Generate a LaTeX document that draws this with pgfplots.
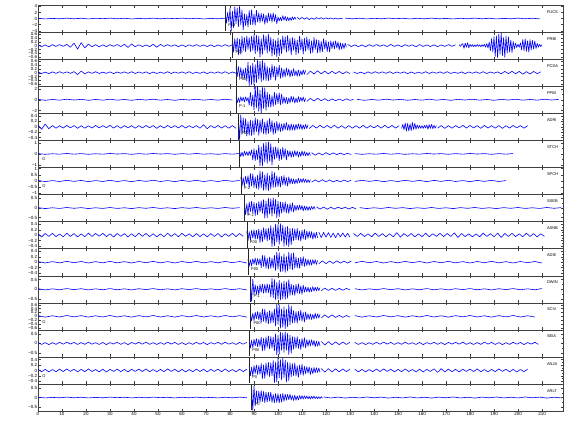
\documentclass[border=0pt]{standalone}
\usepackage{fontspec}
\setmainfont{Liberation Sans}
\usepackage{pgfplots}
\pgfplotsset{compat=1.18}
\newcommand{\seg}[3]{\addplot[seis] table[row sep=\\, x expr={\coordindex*#2+#1}, y index=0]{#3};}
\tikzset{
 lab/.style={anchor=west, font=\fontsize{4}{4.5}\selectfont, inner sep=0.5pt},
 stn/.style={anchor=west, font=\fontsize{4}{4.5}\selectfont, inner sep=0pt},
}
\pgfplotsset{
 seis/.style={blue, line width=0.6pt, line join=round},
 arr/.style={black!85, line width=0.3pt},
 panel/.style={at={(0pt,{-#1*27.07pt})}, anchor=north west, scale only axis,
   width=525pt, height=27.07pt, xmin=0, xmax=218.75, ymin=-100, ymax=100,
   xtick={0,10,...,210}, tick align=inside, major tick length=2.5pt, minor tick length=1.3pt,
   minor y tick num=1, axis line style={black!75, line width=0.4pt},
   every tick/.style={black!75, line width=0.3pt},
   yticklabel style={font=\fontsize{4.5}{5}\selectfont, inner sep=0.6pt},
   xticklabel style={font=\fontsize{4.5}{5}\selectfont, inner sep=1pt},
   /pgf/number format/assume math mode=true},
 notlast/.style={xticklabels={}},
}
\begin{document}
\begin{tikzpicture}
\path[use as bounding box] (-38pt,5pt) rectangle (542pt,-435pt);
% 1
\begin{axis}[panel=0, notlast, ytick={-91,-45,0,45,91}, yticklabels={−4,−2,0,2,4}]
\seg{0}{3}{2\\-3\\1\\-2\\3\\-2\\2\\-3\\2\\-1\\3\\-2\\2\\-3\\1\\-2\\3\\-2\\2\\-1\\3\\-2\\2\\-3\\1\\-2\\3\\}
\seg{78}{0.5}{50\\-35\\45\\-25\\74\\-92\\55\\-69\\87\\-37\\78\\-60\\92\\-46\\64\\-83\\36\\-52\\29\\-62\\59\\-45\\65\\-46\\33\\-49\\62\\-26\\42\\-29\\38\\-21\\34\\-42\\25\\-32\\40\\-17\\36\\-27\\42\\-21\\29\\-38\\12\\-18\\9\\-17\\21\\-13\\15\\-17\\10\\-16\\7\\-14\\12\\-8\\11\\-6\\}
\seg{108}{1}{9\\-6\\8\\-4\\7\\-8\\5\\-6\\7\\-3\\6\\-4\\5\\-3\\5\\-4\\3\\-4\\3\\-3\\}
\seg{128}{3}{3\\-2\\2\\-3\\2\\-2\\3\\-1\\2\\-3\\2\\-2\\3\\-2\\1\\-3\\2\\-2\\3\\-2\\2\\-3\\1\\-2\\3\\-2\\2\\-2\\}
\addplot[arr] coordinates {(78,95) (78,-95)};
\node[lab] at (axis cs:79,-50) {P08};
\node[stn] at (axis cs:212,50) {FUCS};
\end{axis}
% 2
\begin{axis}[panel=1, notlast, ytick={-86,-57,-29,0,29,57,86}, yticklabels={−0.6,−0.4,−0.2,0,0.2,0.4,0.6}]
\seg{0}{1.5}{6\\-8\\5\\-9\\7\\-6\\8\\-5\\9\\-12\\18\\-26\\22\\-17\\11\\-8\\7\\-9\\6\\-8\\7\\-5\\8\\-7\\10\\-14\\12\\-8\\6\\-7\\5\\-8\\10\\-12\\9\\-6\\7\\-5\\6\\-8\\5\\-7\\6\\-5\\8\\-6\\5\\-7\\6\\-8\\5\\-6\\7\\-5\\6\\}
\seg{81}{0.5}{55\\-48\\52\\-38\\56\\-70\\49\\-63\\67\\-35\\60\\-46\\70\\-28\\59\\-45\\70\\-35\\81\\-60\\76\\-43\\68\\-85\\51\\-64\\81\\-34\\72\\-55\\85\\-43\\60\\-77\\47\\-68\\38\\-81\\56\\-75\\45\\-60\\71\\-30\\64\\-49\\75\\-38\\53\\-68\\60\\-34\\52\\-66\\41\\-57\\70\\-31\\49\\-62\\55\\-42\\63\\-30\\48\\-58\\36\\-51\\60\\-27\\45\\-54\\40\\-50\\31\\-46\\52\\-25\\38\\-44\\28\\-47\\35\\-22\\30\\-24\\35\\-18\\27\\-31\\20\\-26\\16\\-22\\18\\-12\\}
\seg{129}{1.5}{9\\-7\\6\\-8\\5\\-9\\7\\-6\\8\\-5\\6\\-7\\9\\-6\\5\\-8\\7\\-5\\6\\-9\\8\\-6\\5\\-7\\6\\-8\\5\\-6\\7\\-5\\6\\}
\seg{175.5}{0.5}{7\\-6\\8\\14\\-20\\18\\-12\\21\\-16\\9\\-6\\7\\-8\\5\\-7\\8\\-5\\6\\-9\\7\\-6\\10\\-12\\15\\-18\\25\\-38\\52\\-45\\66\\-80\\72\\-90\\85\\-62\\92\\-75\\60\\-86\\70\\-55\\64\\-48\\40\\-52\\30\\-24\\18\\-14\\10\\-12\\20\\-32\\45\\-38\\50\\-42\\36\\-48\\44\\-30\\38\\-26\\34\\-22\\16\\-12\\10\\-7\\6\\}
\addplot[arr] coordinates {(81,95) (81,-95)};
\node[lab] at (axis cs:82,-50) {P00};
\node[stn] at (axis cs:212,50) {PRBI};
\end{axis}
% 3
\begin{axis}[panel=2, notlast, ytick={-86,-57,-29,0,29,57,86}, yticklabels={−0.6,−0.4,−0.2,0,0.2,0.4,0.6}]
\seg{0}{1.5}{5\\-6\\4\\-7\\6\\-5\\7\\-4\\6\\-5\\8\\-14\\12\\-9\\6\\-5\\7\\-6\\4\\-5\\6\\-7\\5\\-4\\6\\-5\\7\\-6\\5\\-4\\6\\-7\\5\\-6\\4\\-5\\7\\-6\\5\\-4\\6\\-5\\7\\-6\\4\\-5\\6\\-7\\5\\-4\\6\\-5\\7\\-6\\5\\-4\\}
\seg{82.5}{0.5}{40\\-28\\45\\-33\\38\\-45\\25\\-40\\35\\-60\\78\\-95\\52\\-88\\70\\-92\\60\\-75\\95\\-48\\84\\-66\\90\\-55\\72\\-58\\44\\-60\\36\\-52\\60\\-30\\48\\-55\\40\\-28\\56\\-42\\35\\-34\\25\\-30\\35\\-20\\28\\-33\\18\\-26\\30\\-22\\15\\-27\\20\\-24\\14\\-18\\21\\-12\\16\\}
\seg{112}{1.5}{-15\\12\\-10\\14\\-8\\11\\-9\\10\\-7\\9\\-8\\7\\-6\\}
\seg{131.5}{1.5}{5\\-6\\4\\-7\\6\\-5\\7\\-4\\6\\-5\\7\\-6\\5\\-4\\6\\-7\\5\\-6\\4\\-5\\7\\-6\\5\\-4\\6\\-5\\7\\-6\\4\\-5\\6\\-7\\5\\-4\\6\\-5\\7\\-6\\5\\-4\\6\\-8\\9\\-7\\10\\-8\\9\\-11\\8\\-10\\9\\-7\\6\\}
\addplot[arr] coordinates {(82.5,95) (82.5,-95)};
\node[lab] at (axis cs:83.5,-50) {P00};
\node[stn] at (axis cs:212,50) {PCDA};
\end{axis}
% 4
\begin{axis}[panel=3, notlast, ytick={-80,0,80}, yticklabels={−2,0,2}]
\seg{0}{3}{3\\-4\\2\\-3\\4\\-2\\3\\-4\\2\\-3\\4\\-3\\2\\-4\\3\\-2\\4\\-3\\2\\-4\\3\\-2\\4\\-3\\2\\-3\\4\\-2\\}
\seg{82.5}{0.5}{18\\-22\\14\\-20\\22\\-12\\19\\-16\\21\\-10\\17\\-40\\55\\-48\\35\\-75\\98\\-60\\100\\-85\\70\\-100\\92\\-65\\88\\-78\\55\\-52\\40\\-55\\30\\-48\\55\\-36\\45\\-28\\50\\-38\\42\\-28\\22\\-26\\18\\-30\\14\\-24\\27\\-16\\22\\-25\\12\\-20\\23\\-15\\18\\-12\\20\\-14\\10\\}
\seg{112}{1.5}{-12\\10\\-9\\11\\-7\\8\\-9\\6\\-7\\5\\-6\\7\\-5\\4\\}
\seg{133}{3}{3\\-4\\2\\-3\\4\\-2\\3\\-4\\2\\-3\\4\\-3\\2\\-4\\3\\-2\\4\\-3\\2\\-4\\3\\-2\\4\\-3\\2\\-3\\4\\-2\\3\\}
\addplot[arr] coordinates {(82.5,95) (82.5,-95)};
\node[lab] at (axis cs:83.5,-50) {P-1};
\node[stn] at (axis cs:212,50) {PPBI};
\end{axis}
% 5
\begin{axis}[panel=4, notlast, ytick={-80,-40,0,40,80}, yticklabels={−0.4,−0.2,0,0.2,0.4}]
\seg{0}{1.5}{12\\-18\\20\\-14\\9\\-10\\8\\-9\\10\\-7\\9\\-11\\8\\-10\\7\\-9\\10\\-8\\9\\-7\\11\\-9\\8\\-10\\9\\-7\\8\\-10\\9\\-8\\10\\-7\\9\\-11\\8\\-9\\10\\-7\\9\\-8\\10\\-9\\8\\-7\\9\\-10\\15\\-14\\9\\-8\\10\\-9\\8\\-10\\9\\-11\\}
\seg{83.5}{0.5}{70\\-95\\88\\-55\\65\\-42\\60\\-68\\38\\-62\\50\\-65\\45\\-58\\66\\-35\\55\\-62\\48\\-40\\60\\-52\\35\\-58\\45\\-50\\62\\-38\\46\\-55\\30\\-48\\40\\-32\\28\\-35\\22\\-30\\26\\-20\\32\\-25\\18\\-28\\22\\-24\\16\\-26\\20\\-18\\22\\-15\\19\\-20\\14\\-17\\18\\-13\\15\\}
\seg{113}{1.5}{-12\\10\\-9\\11\\-8\\10\\-9\\12\\-10\\8\\-11\\9\\-10\\8\\-9\\11\\-10\\9\\-8\\10\\-9\\11\\-8\\10\\-9\\8\\}
\seg{151.5}{0.5}{-12\\18\\-22\\28\\-32\\25\\-30\\22\\-28\\32\\-20\\26\\-18\\14\\-12\\10\\-11\\9\\-12\\10\\-9\\14\\-18\\16\\-12\\18\\-14\\11\\-10\\9\\}
\seg{166.5}{1.5}{-10\\9\\-11\\8\\-10\\9\\-8\\11\\-9\\10\\-8\\9\\-11\\10\\-9\\8\\-10\\9\\-11\\8\\-9\\10\\-8\\9\\-10\\8\\}
\addplot[arr] coordinates {(83.5,95) (83.5,-95)};
\node[lab] at (axis cs:84.5,-50) {P00};
\node[stn] at (axis cs:212,50) {ADRI};
\end{axis}
% 6
\begin{axis}[panel=5, notlast, ytick={-83,0,83}, yticklabels={−1,0,1}]
\seg{0}{3}{2\\-3\\1\\-2\\3\\-2\\2\\-3\\1\\-2\\3\\-1\\2\\-3\\2\\-2\\3\\-1\\2\\-3\\2\\-2\\3\\-2\\1\\-3\\2\\-2\\3\\}
\seg{84}{0.5}{15\\-20\\12\\-18\\20\\-10\\16\\-14\\19\\-11\\30\\-45\\38\\-50\\28\\-42\\65\\-88\\52\\-90\\78\\-60\\85\\-70\\90\\-55\\75\\-82\\48\\-40\\52\\-30\\45\\-50\\35\\-42\\48\\-28\\38\\-45\\25\\-20\\23\\-26\\18\\-22\\25\\-15\\20\\-24\\14\\-19\\22\\-12\\17\\-15\\11\\-14\\10\\-12\\}
\seg{114}{1.5}{9\\-10\\7\\-8\\9\\-6\\7\\-5\\6\\-5\\4\\-5\\}
\seg{132}{3}{2\\-3\\1\\-2\\3\\-2\\2\\-3\\1\\-2\\3\\-1\\2\\-3\\2\\-2\\3\\-1\\2\\-3\\2\\-2\\3\\}
\addplot[arr] coordinates {(84,95) (84,-95)};
\node[lab] at (axis cs:1.5,-40) {O};
\node[stn] at (axis cs:212,50) {STCH};
\end{axis}
% 7
\begin{axis}[panel=6, notlast, ytick={-91,-45,0,45,91}, yticklabels={−1,−0.5,0,0.5,1}]
\seg{0}{3}{4\\-5\\3\\-4\\5\\-3\\4\\-5\\3\\-4\\5\\-4\\3\\-5\\4\\-3\\5\\-4\\3\\-5\\4\\-3\\5\\-4\\3\\-4\\5\\-3\\4\\}
\seg{84.5}{0.5}{30\\-40\\25\\-38\\35\\-22\\38\\-45\\55\\-38\\52\\-48\\30\\-55\\44\\-62\\72\\-50\\68\\-70\\45\\-66\\58\\-72\\40\\-60\\70\\-48\\62\\-45\\38\\-42\\30\\-45\\35\\-28\\40\\-32\\25\\-38\\30\\-22\\18\\-20\\15\\-22\\12\\-18\\20\\-14\\16\\-12\\18\\-10\\14\\-12\\9\\-11\\10\\}
\seg{114}{1.5}{-9\\8\\-7\\9\\-6\\8\\-7\\5\\-6\\7\\-5\\6\\}
\seg{132}{3}{-4\\5\\-3\\4\\-5\\3\\-4\\5\\-3\\4\\-5\\4\\-3\\5\\-4\\3\\-5\\4\\-3\\5\\-4\\3\\}
\addplot[arr] coordinates {(84.5,95) (84.5,-95)};
\node[lab] at (axis cs:85.5,-50) {P-2};
\node[lab] at (axis cs:1.5,-40) {O};
\node[stn] at (axis cs:212,50) {SPCH};
\end{axis}
% 8
\begin{axis}[panel=7, notlast, ytick={-71,0,71}, yticklabels={−0.5,0,0.5}]
\seg{0}{3}{3\\-4\\2\\-3\\4\\-2\\3\\-4\\2\\-3\\4\\-3\\2\\-4\\3\\-2\\4\\-3\\2\\-4\\3\\-2\\4\\-3\\2\\-3\\4\\-2\\3\\}
\seg{86}{0.5}{40\\-50\\32\\-48\\45\\-28\\50\\-36\\42\\-55\\35\\-50\\48\\-30\\52\\-40\\62\\-75\\50\\-70\\72\\-45\\68\\-60\\75\\-42\\65\\-72\\50\\-64\\45\\-38\\42\\-30\\45\\-35\\28\\-40\\32\\-25\\38\\-30\\22\\-18\\20\\-15\\22\\-12\\18\\-20\\14\\-16\\12\\-18\\10\\-14\\12\\-9\\11\\-10\\}
\seg{116}{1.5}{9\\-8\\7\\-9\\6\\-8\\7\\-5\\6\\-7\\5\\-6\\}
\seg{134}{3}{3\\-4\\2\\-3\\4\\-2\\3\\-4\\2\\-3\\4\\-3\\2\\-4\\3\\-2\\4\\-3\\2\\-4\\3\\-2\\4\\-3\\2\\-3\\4\\-2\\3\\}
\addplot[arr] coordinates {(86,95) (86,-95)};
\node[lab] at (axis cs:87,-50) {P-2};
\node[stn] at (axis cs:212,50) {SSEB};
\end{axis}
% 9
\begin{axis}[panel=8, notlast, ytick={-80,-40,0,40,80}, yticklabels={−0.4,−0.2,0,0.2,0.4}]
\seg{0}{1.5}{10\\-14\\12\\-9\\13\\-11\\8\\-12\\14\\-10\\11\\-13\\9\\-12\\15\\-10\\12\\-8\\13\\-11\\10\\-14\\12\\-9\\11\\-13\\10\\-12\\14\\-9\\12\\-11\\10\\-13\\9\\-12\\14\\-10\\11\\-12\\13\\-9\\10\\-14\\12\\-11\\9\\-13\\11\\-10\\12\\-14\\10\\-9\\13\\-11\\12\\-10\\}
\seg{87}{0.5}{30\\-40\\25\\-38\\35\\-22\\40\\-30\\36\\-28\\45\\-55\\38\\-50\\55\\-32\\48\\-42\\52\\-35\\70\\-85\\55\\-80\\82\\-50\\78\\-68\\85\\-45\\72\\-82\\58\\-75\\65\\-85\\50\\-70\\50\\-42\\46\\-35\\50\\-38\\30\\-45\\36\\-28\\42\\-33\\30\\-24\\28\\-20\\26\\-30\\18\\-24\\22\\-20\\}
\seg{117}{1}{22\\-18\\20\\-15\\18\\-16\\14\\-19\\15\\-13\\16\\-14\\13\\-15\\}
\seg{131.5}{1.5}{12\\-10\\13\\-11\\9\\-12\\14\\-10\\11\\-13\\10\\-12\\18\\-15\\11\\-10\\12\\-13\\9\\-11\\14\\-12\\10\\-9\\13\\-11\\12\\-10\\16\\-18\\12\\-11\\10\\-13\\9\\-12\\14\\-10\\11\\-12\\15\\-17\\12\\-10\\13\\-11\\9\\-12\\14\\-10\\11\\-13\\10\\-9\\}
\addplot[arr] coordinates {(87,95) (87,-95)};
\node[lab] at (axis cs:88,-50) {P00};
\node[stn] at (axis cs:212,50) {ASNB};
\end{axis}
% 10
\begin{axis}[panel=9, notlast, ytick={-80,-40,0,40,80}, yticklabels={−0.4,−0.2,0,0.2,0.4}]
\seg{0}{3}{5\\-6\\4\\-5\\6\\-4\\5\\-6\\4\\-5\\6\\-5\\4\\-6\\5\\-4\\6\\-5\\4\\-6\\5\\-4\\6\\-5\\4\\-5\\6\\-4\\5\\-6\\}
\seg{87.5}{0.5}{22\\-30\\18\\-28\\26\\-15\\30\\-22\\27\\-18\\25\\-40\\50\\-32\\48\\-45\\28\\-50\\38\\-46\\30\\-42\\50\\-62\\75\\-50\\70\\-72\\45\\-68\\60\\-75\\42\\-65\\72\\-50\\64\\-58\\70\\-45\\38\\-42\\30\\-45\\35\\-28\\40\\-32\\25\\-25\\20\\-23\\17\\-22\\19\\-14\\18\\-16\\12\\}
\seg{117}{1.5}{-12\\10\\-11\\8\\-9\\10\\-7\\8\\-6\\7\\}
\seg{132}{3}{-5\\6\\-4\\5\\-6\\4\\-5\\6\\-4\\5\\-6\\5\\-4\\6\\-5\\4\\-6\\5\\-4\\6\\-5\\4\\-6\\5\\-4\\5\\-6\\}
\addplot[arr] coordinates {(87.5,95) (87.5,-95)};
\node[lab] at (axis cs:88.5,-50) {P00};
\node[stn] at (axis cs:212,50) {ADIE};
\end{axis}
% 11
\begin{axis}[panel=10, notlast, ytick={-71,0,71}, yticklabels={−0.5,0,0.5}]
\seg{0}{3}{4\\-5\\3\\-4\\5\\-3\\4\\-5\\3\\-4\\5\\-4\\3\\-5\\4\\-3\\5\\-4\\3\\-5\\4\\-3\\5\\-4\\3\\-4\\5\\-3\\4\\-5\\}
\seg{88.5}{0.5}{60\\-90\\75\\-40\\32\\-38\\25\\-40\\35\\-22\\38\\-30\\36\\-28\\40\\-25\\34\\-55\\80\\-62\\72\\-78\\50\\-70\\65\\-80\\48\\-72\\60\\-75\\55\\-66\\70\\-45\\38\\-42\\30\\-45\\35\\-28\\40\\-32\\25\\-38\\30\\-22\\18\\-20\\15\\-22\\12\\-18\\20\\-14\\16\\-12\\15\\-10\\12\\}
\seg{118}{1.5}{-10\\8\\-9\\7\\-8\\6\\-7\\6\\-5\\}
\seg{132}{3}{4\\-5\\3\\-4\\5\\-3\\4\\-5\\3\\-4\\5\\-4\\3\\-5\\4\\-3\\5\\-4\\3\\-5\\4\\-3\\5\\-4\\3\\-4\\5\\}
\addplot[arr] coordinates {(88.5,95) (88.5,-95)};
\node[lab] at (axis cs:89.5,-50) {P-1};
\node[stn] at (axis cs:212,50) {DWIN};
\end{axis}
% 12
\begin{axis}[panel=11, notlast, ytick={-86,-57,-29,0,29,57,86}, yticklabels={−0.6,−0.4,−0.2,0,0.2,0.4,0.6}]
\seg{0}{3}{5\\-6\\4\\-5\\6\\-4\\5\\-6\\4\\-5\\6\\-5\\4\\-6\\5\\-4\\6\\-5\\4\\-6\\5\\-4\\6\\-5\\4\\-5\\6\\-4\\5\\-6\\}
\seg{88.5}{0.5}{28\\-35\\22\\-32\\30\\-18\\35\\-25\\30\\-45\\55\\-38\\52\\-48\\30\\-55\\42\\-50\\35\\-46\\55\\-72\\90\\-60\\85\\-88\\55\\-80\\70\\-90\\52\\-78\\86\\-62\\75\\-50\\42\\-46\\35\\-50\\38\\-30\\45\\-36\\28\\-42\\33\\-25\\20\\-23\\18\\-24\\14\\-20\\22\\-15\\18\\-13\\16\\}
\seg{118}{1.5}{-12\\10\\-9\\11\\-8\\7\\-8\\6\\-7\\}
\seg{132}{3}{5\\-6\\4\\-5\\6\\-4\\5\\-6\\4\\-5\\6\\-5\\4\\-6\\5\\-4\\6\\-5\\4\\-6\\5\\-4\\6\\-5\\4\\-5\\}
\addplot[arr] coordinates {(88.5,95) (88.5,-95)};
\node[lab] at (axis cs:89.5,-50) {P00};
\node[lab] at (axis cs:1.5,-40) {O};
\node[stn] at (axis cs:212,50) {SCIV};
\end{axis}
% 13
\begin{axis}[panel=12, notlast, ytick={-71,0,71}, yticklabels={−0.5,0,0.5}]
\seg{0}{1.5}{7\\-8\\6\\-9\\5\\-7\\8\\-6\\9\\-5\\7\\-8\\6\\-7\\9\\-6\\5\\-8\\7\\-9\\6\\-5\\8\\-7\\6\\-9\\7\\-5\\8\\-6\\9\\-7\\5\\-8\\6\\-7\\9\\-5\\7\\-8\\6\\-9\\5\\-7\\8\\-6\\7\\-9\\6\\-5\\8\\-7\\9\\-6\\5\\-8\\7\\-6\\8\\}
\seg{88}{0.5}{28\\-35\\22\\-32\\30\\-18\\35\\-25\\30\\-22\\45\\-55\\38\\-52\\48\\-30\\55\\-42\\50\\-35\\46\\-55\\70\\-85\\58\\-80\\84\\-52\\78\\-66\\85\\-50\\74\\-82\\60\\-72\\50\\-42\\46\\-35\\50\\-38\\30\\-45\\36\\-28\\42\\-33\\28\\-22\\25\\-19\\27\\-15\\22\\-24\\17\\-20\\14\\-18\\}
\seg{118}{1.5}{14\\-12\\13\\-10\\11\\-9\\10\\-8\\9\\}
\seg{132}{1.5}{7\\-8\\6\\-9\\5\\-7\\8\\-6\\9\\-5\\7\\-8\\6\\-7\\9\\-6\\5\\-8\\7\\-9\\6\\-5\\8\\-7\\6\\-9\\7\\-5\\8\\-6\\9\\-7\\5\\-8\\6\\-7\\9\\-5\\7\\-8\\6\\-9\\5\\-7\\8\\-6\\7\\-9\\6\\-5\\8\\-7\\}
\addplot[arr] coordinates {(88,95) (88,-95)};
\node[lab] at (axis cs:89,-50) {P00};
\node[stn] at (axis cs:212,50) {SEIA};
\end{axis}
% 14
\begin{axis}[panel=13, notlast, ytick={-80,-40,0,40,80}, yticklabels={−0.4,−0.2,0,0.2,0.4}]
\seg{0}{1.5}{9\\-10\\8\\-11\\7\\-9\\10\\-8\\11\\-7\\9\\-10\\8\\-9\\11\\-8\\7\\-10\\9\\-11\\8\\-7\\10\\-9\\8\\-11\\9\\-7\\10\\-8\\11\\-9\\7\\-10\\8\\-9\\11\\-7\\9\\-10\\8\\-11\\7\\-9\\10\\-8\\9\\-11\\8\\-7\\10\\-9\\11\\-8\\7\\-10\\9\\-8\\10\\}
\seg{88}{0.5}{30\\-40\\25\\-38\\35\\-22\\40\\-30\\36\\-28\\50\\-60\\42\\-58\\55\\-35\\60\\-46\\56\\-40\\72\\-90\\60\\-85\\88\\-55\\80\\-70\\90\\-52\\76\\-86\\62\\-75\\55\\-45\\50\\-38\\55\\-42\\33\\-50\\40\\-30\\46\\-36\\30\\-24\\28\\-20\\27\\-30\\18\\-24\\22\\-17\\20\\-15\\18\\-13\\}
\seg{118}{1.5}{14\\-12\\13\\-11\\12\\-10\\11\\-9\\10\\}
\seg{132}{1.5}{9\\-10\\8\\-11\\7\\-9\\10\\-8\\11\\-7\\9\\-10\\8\\-9\\11\\-8\\7\\-10\\9\\-11\\8\\-7\\12\\-14\\13\\-11\\10\\-9\\8\\-11\\9\\-7\\10\\-8\\11\\-9\\7\\-10\\8\\-9\\11\\-7\\9\\-10\\8\\-11\\7\\-9\\10\\}
\addplot[arr] coordinates {(88,95) (88,-95)};
\node[lab] at (axis cs:89,-50) {P0};
\node[lab] at (axis cs:1.5,-40) {O};
\node[stn] at (axis cs:212,50) {ANJA};
\end{axis}
% 15
\begin{axis}[panel=14, ytick={-71,0,71}, yticklabels={−0.5,0,0.5}]
\seg{0}{3}{2\\-3\\1\\-2\\3\\-2\\2\\-3\\1\\-2\\3\\-1\\2\\-3\\2\\-2\\3\\-1\\2\\-3\\2\\-2\\3\\-2\\1\\-3\\2\\-2\\3\\-2\\}
\seg{89}{0.5}{70\\-95\\85\\-60\\50\\-42\\48\\-35\\50\\-30\\45\\-38\\40\\-32\\38\\-25\\40\\-35\\22\\-38\\30\\-36\\28\\-40\\25\\-34\\30\\-28\\25\\-20\\24\\-16\\25\\-18\\14\\-22\\17\\-20\\12\\-18\\15\\-12\\14\\-11\\13\\-9\\12\\-10\\8\\-11\\9\\-7\\10\\-8\\7\\-9\\6\\-8\\7\\-5\\}
\seg{119}{3}{4\\-3\\3\\-4\\2\\-3\\4\\-2\\3\\-4\\2\\-3\\4\\-3\\2\\-4\\3\\-2\\4\\-3\\2\\-4\\3\\-2\\4\\-3\\2\\-3\\4\\-2\\3\\-4\\2\\-3\\}
\addplot[arr] coordinates {(89,95) (89,-95)};
\node[lab] at (axis cs:90,-50) {P0};
\node[stn] at (axis cs:212,50) {ARLT};
\end{axis}
\end{tikzpicture}
\end{document}
